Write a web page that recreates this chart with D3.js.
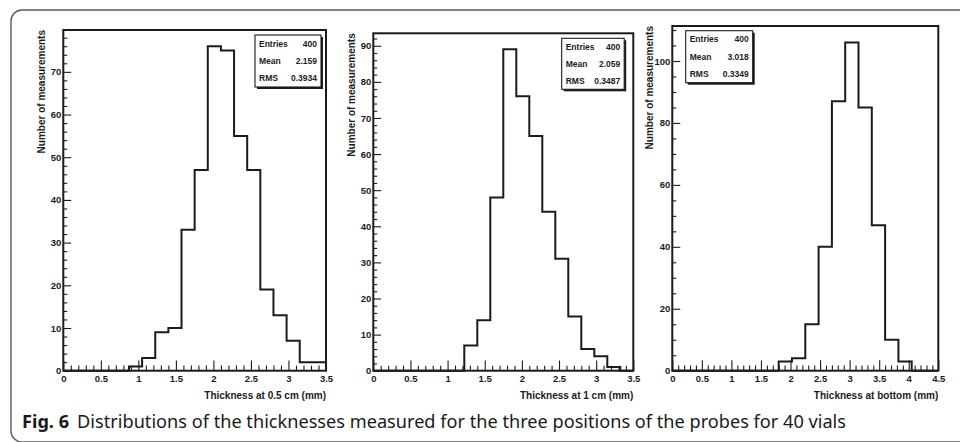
<!DOCTYPE html>
<html>
<head>
<meta charset="utf-8">
<script src="https://cdn.jsdelivr.net/npm/d3@7"></script>
<style>
  html, body { margin: 0; padding: 0; background: #fff; }
  svg { display: block; }
</style>
</head>
<body>
<svg id="fig" width="960" height="442"></svg>
<script>
// Bin counts (20 equal-width bins per histogram)
const countsHalfCm = [0, 0, 0, 0, 0, 1, 3, 9, 10, 33, 47, 76, 75, 55, 47, 19, 13, 7, 2, 2];
const countsOneCm  = [0, 0, 0, 0, 0, 0, 0, 7, 14, 48, 89, 76, 65, 44, 31, 15, 6, 4, 1, 0];
const countsBottom = [0, 0, 0, 0, 0, 0, 0, 0, 3, 4, 15, 40, 87, 106, 85, 47, 10, 3, 0, 0];

// Histogram ranges (mm)
const rangeHalfCm = [0, 3.5];
const rangeOneCm  = [0, 3.5];
const rangeBottom = [0, 4.5];

// Axis titles
const xTitles = ["Thickness at 0.5 cm (mm)", "Thickness at 1 cm (mm)", "Thickness at bottom (mm)"];
const yTitle = "Number of measurements";

// Statistics boxes
const statNames = ["Entries", "Mean", "RMS"];
const statsHalfCm = ["400", "2.159", "0.3934"];
const statsOneCm  = ["400", "2.059", "0.3487"];
const statsBottom = ["400", "3.018", "0.3349"];

// Tick spacing
const xMajorStep = 0.5, xMinorStep = 0.1;
const yMajorSteps = [10, 10, 20];
const yMinorSteps = [2, 2, 5];

const captionLabel = "Fig. 6";
const captionText = "Distributions of the thicknesses measured for the three positions of the probes for 40 vials";

const svg = d3.select("#fig");
const ink = "#1b1b1b";
const axisFont = '"Liberation Sans", Arial, Helvetica, sans-serif';

// Outer rounded figure border
svg.append("rect")
  .attr("x", 11).attr("y", 10)
  .attr("width", 1000).attr("height", 432)
  .attr("rx", 11).attr("ry", 11)
  .attr("fill", "none").attr("stroke", "#5a5a5a").attr("stroke-width", 1.4);

// Panel layouts: frame box in page pixels, stats box, y-title offset
const panels = [
  { counts: countsHalfCm, range: rangeHalfCm, stats: statsHalfCm, xTitle: xTitles[0],
    frame: { l: 63.3, t: 30, r: 326, b: 370.7 }, titleOff: 18,
    box: { x: 255, y: 35, w: 66, h: 52 }, yMaj: yMajorSteps[0], yMin: yMinorSteps[0] },
  { counts: countsOneCm, range: rangeOneCm, stats: statsOneCm, xTitle: xTitles[1],
    frame: { l: 373.3, t: 33.3, r: 633.3, b: 370.7 }, titleOff: 18,
    box: { x: 561.7, y: 38.3, w: 62.5, h: 51 }, yMaj: yMajorSteps[1], yMin: yMinorSteps[1] },
  { counts: countsBottom, range: rangeBottom, stats: statsBottom, xTitle: xTitles[2],
    frame: { l: 672.3, t: 26, r: 938.3, b: 370.7 }, titleOff: 19,
    box: { x: 685.7, y: 30.7, w: 67, h: 52 }, yMaj: yMajorSteps[2], yMin: yMinorSteps[2] }
];

const fmt = d3.format("~g");

function stepRange(lo, hi, step) {
  const n = Math.round((hi - lo) / step);
  const out = [];
  for (let i = 0; i <= n; i++) out.push(+(lo + i * step).toFixed(6));
  return out;
}

panels.forEach(p => {
  const f = p.frame;
  const w = f.r - f.l, h = f.b - f.t;
  const nBins = p.counts.length;
  const binW = (p.range[1] - p.range[0]) / nBins;
  const yTop = d3.max(p.counts) * 1.05;

  const x = d3.scaleLinear().domain(p.range).range([f.l, f.r]);
  const y = d3.scaleLinear().domain([0, yTop]).range([f.b, f.t]);

  const g = svg.append("g");

  // Tick lengths scale with the opposite axis length
  const xMajLen = 0.03 * h, xMinLen = 0.015 * h;
  const yMajLen = 0.03 * w, yMinLen = 0.015 * w;

  const xMajors = stepRange(p.range[0], p.range[1], xMajorStep);
  const xMinors = stepRange(p.range[0], p.range[1], xMinorStep)
    .filter(v => !xMajors.some(m => Math.abs(m - v) < 1e-6));
  const yMajors = stepRange(0, Math.floor(yTop / p.yMaj) * p.yMaj, p.yMaj);
  const yMinors = stepRange(0, Math.floor(yTop / p.yMin) * p.yMin, p.yMin)
    .filter(v => !yMajors.some(m => Math.abs(m - v) < 1e-6));

  // X axis: ticks point into the plot
  const gxMin = g.append("g").attr("transform", `translate(0,${f.b})`)
    .call(d3.axisBottom(x).tickValues(xMinors).tickSize(-xMinLen).tickFormat(""));
  const gx = g.append("g").attr("transform", `translate(0,${f.b})`)
    .call(d3.axisBottom(x).tickValues(xMajors).tickSize(-xMajLen).tickPadding(5).tickFormat(fmt));

  // Y axis
  const gyMin = g.append("g").attr("transform", `translate(${f.l},0)`)
    .call(d3.axisLeft(y).tickValues(yMinors).tickSize(-yMinLen).tickFormat(""));
  const gy = g.append("g").attr("transform", `translate(${f.l},0)`)
    .call(d3.axisLeft(y).tickValues(yMajors).tickSize(-yMajLen).tickPadding(2).tickFormat(fmt));

  [gxMin, gx, gyMin, gy].forEach(a => {
    a.attr("font-family", axisFont).attr("font-size", 9.5).attr("font-weight", "bold");
    a.select(".domain").remove();
    a.selectAll(".tick line").attr("stroke", ink).attr("stroke-width", 1.1);
    a.selectAll(".tick text").attr("fill", ink);
  });

  // Histogram outline
  const pts = [[p.range[0], 0]];
  p.counts.forEach((c, i) => {
    const x0 = p.range[0] + i * binW, x1 = x0 + binW;
    pts.push([x0, c], [x1, c]);
  });
  pts.push([p.range[1], 0]);
  g.append("path")
    .attr("d", d3.line().x(d => x(d[0])).y(d => y(d[1]))(pts))
    .attr("fill", "none").attr("stroke", ink).attr("stroke-width", 2)
    .attr("stroke-linejoin", "miter");

  // Frame
  g.append("rect")
    .attr("x", f.l).attr("y", f.t).attr("width", w).attr("height", h)
    .attr("fill", "none").attr("stroke", ink).attr("stroke-width", 2);

  // Axis titles
  g.append("text")
    .attr("x", f.r).attr("y", 399)
    .attr("text-anchor", "end")
    .attr("font-family", axisFont).attr("font-weight", "bold").attr("font-size", 10)
    .attr("fill", ink)
    .text(p.xTitle);

  g.append("text")
    .attr("transform", `translate(${f.l - p.titleOff},${f.t}) rotate(-90)`)
    .attr("text-anchor", "end")
    .attr("font-family", axisFont).attr("font-weight", "bold").attr("font-size", 10)
    .attr("fill", ink)
    .text(yTitle);

  // Statistics box with drop shadow
  const b = p.box;
  g.append("rect")
    .attr("x", b.x + 2).attr("y", b.y + 2).attr("width", b.w).attr("height", b.h)
    .attr("fill", ink);
  g.append("rect")
    .attr("x", b.x).attr("y", b.y).attr("width", b.w).attr("height", b.h)
    .attr("fill", "#fff").attr("stroke", ink).attr("stroke-width", 1.1);
  const rowH = b.h / statNames.length;
  statNames.forEach((name, i) => {
    const cy = b.y + rowH * (i + 0.5) + 3;
    g.append("text")
      .attr("x", b.x + 4).attr("y", cy)
      .attr("font-family", axisFont).attr("font-weight", "bold").attr("font-size", 8.5)
      .attr("fill", ink).text(name);
    g.append("text")
      .attr("x", b.x + b.w - 4).attr("y", cy)
      .attr("text-anchor", "end")
      .attr("font-family", axisFont).attr("font-weight", "bold").attr("font-size", 8.5)
      .attr("fill", ink).text(p.stats[i]);
  });
});

// Caption
const cap = svg.append("text")
  .attr("x", 22).attr("y", 428)
  .attr("font-family", '"Noto Sans", "Open Sans", sans-serif')
  .attr("font-size", 18)
  .attr("fill", "#1a1a1a");
cap.append("tspan").attr("font-weight", "bold").text(captionLabel);
cap.append("tspan").attr("dx", 8).text(captionText);
cap.attr("textLength", 824).attr("lengthAdjust", "spacingAndGlyphs");
</script>
</body>
</html>
